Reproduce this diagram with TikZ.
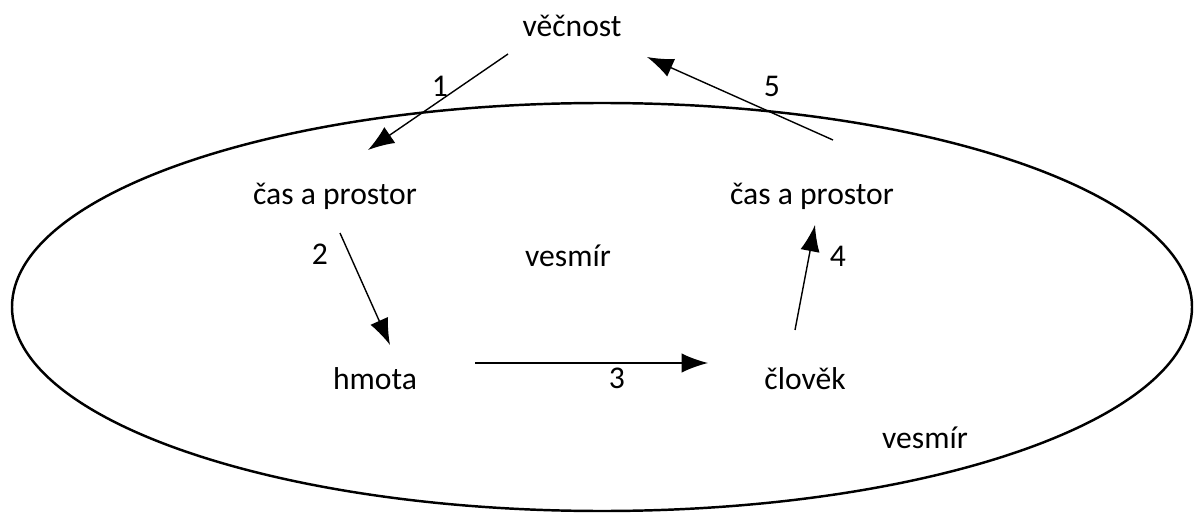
\documentclass[tikz,border=0pt]{standalone}
\usepackage{fontspec}
\setmainfont{Carlito}
\usetikzlibrary{arrows.meta}
\tikzset{>={Latex[length=15pt,width=11pt]}}
\tikzset{
  word/.style = {font=\fontsize{18}{20}\selectfont, inner sep=0pt},
  num/.style  = {font=\fontsize{18}{20}\selectfont, inner sep=0pt},
  flow/.style = {->, line width=0.8pt}
}

\begin{document}
\begin{tikzpicture}[x=0.02cm,y=-0.02cm]
  \useasboundingbox (0,0) rectangle (1196,513);
  % universe
  \draw[line width=1.4pt] (602,307) ellipse [x radius=590, y radius=204];
  % words
  \node[word] (eternity) at (572,26)  {věčnost};
  \node[word] (tsL)      at (335,196) {čas a prostor};
  \node[word] (tsR)      at (812,196) {čas a prostor};
  \node[word] (univ)     at (568,256) {vesmír};
  \node[word] (matter)   at (375,379) {hmota};
  \node[word] (man)      at (805,379) {člověk};
  \node[word] (univB)    at (925,438) {vesmír};
  % arrow ends
  \coordinate (a1) at (508,54);  \coordinate (b1) at (368,150);
  \coordinate (a2) at (340,233); \coordinate (b2) at (390,345);
  \coordinate (a3) at (475,363); \coordinate (b3) at (708,363);
  \coordinate (a4) at (795,330); \coordinate (b4) at (815,225);
  \coordinate (a5) at (833,140); \coordinate (b5) at (647,57);
  % arrows
  \draw[flow] (a1) -- (b1);
  \draw[flow] (a2) -- (b2);
  \draw[flow] (a3) -- (b3);
  \draw[flow] (a4) -- (b4);
  \draw[flow] (a5) -- (b5);
  % numbers
  \node[num] (n1) at (440,86)  {1};
  \node[num] (n2) at (320,254) {2};
  \node[num] (n3) at (617,378) {3};
  \node[num] (n4) at (838,256) {4};
  \node[num] (n5) at (772,86)  {5};
\end{tikzpicture}
\end{document}
